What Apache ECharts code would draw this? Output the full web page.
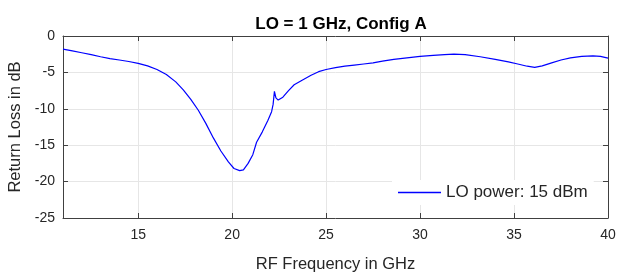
<!DOCTYPE html>
<html>
<head>
<meta charset="utf-8">
<script src="https://cdn.jsdelivr.net/npm/echarts@6/dist/echarts.min.js"></script>
<style>
  html, body { margin: 0; padding: 0; background: #fff; }
  #main { width: 622px; height: 274px; }
</style>
</head>
<body>
<div id="main"></div>
<script>
// RF frequency (GHz) and return loss (dB)
var freq = [11, 11.5, 12, 12.5, 13, 13.5, 14, 14.5, 15, 15.5, 16, 16.5, 17, 17.4, 17.8,
  18.2, 18.6, 19.0, 19.4, 19.8, 20.1, 20.4, 20.6, 20.85, 21.1, 21.3, 21.6, 21.9, 22.1,
  22.18, 22.25, 22.33, 22.45, 22.7, 23.0, 23.3, 23.7, 24.2, 24.6, 25.0, 25.5, 26.0, 26.5,
  27.0, 27.5, 28, 28.6, 29.3, 30, 30.7, 31.3, 31.8, 32.4, 33.2, 34.0, 34.7, 35.2, 35.7,
  36.1, 36.5, 37.0, 37.5, 38.0, 38.6, 39.2, 39.6, 40];
var returnLoss = [-1.8, -2.05, -2.3, -2.55, -2.85, -3.1, -3.3, -3.5, -3.75, -4.1, -4.6, -5.3, -6.3, -7.4, -8.7,
  -10.2, -12.0, -14.0, -15.8, -17.3, -18.2, -18.5, -18.4, -17.5, -16.3, -14.6, -13.2, -11.6, -10.4,
  -9.4, -7.6, -8.5, -8.8, -8.4, -7.5, -6.7, -6.1, -5.4, -4.9, -4.6, -4.35, -4.15, -4.0,
  -3.85, -3.7, -3.45, -3.2, -3.0, -2.8, -2.65, -2.55, -2.5, -2.55, -2.85, -3.2, -3.55, -3.85, -4.15,
  -4.3, -4.1, -3.7, -3.3, -3.0, -2.8, -2.72, -2.8, -3.05];
var seriesName = 'LO power: 15 dBm';

var points = [];
for (var i = 0; i < freq.length; i++) {
  points.push([freq[i], returnLoss[i]]);
}

var font = 'Liberation Sans, Arial, sans-serif';
var axisColor = '#404040';
var gridColor = '#e6e6e6';

var myChart = echarts.init(document.getElementById('main'));

var option = {
  backgroundColor: '#fff',
  animation: false,
  title: {
    text: 'LO = 1 GHz, Config A',
    left: 336,
    top: 11,
    textAlign: 'center',
    textStyle: { fontFamily: font, fontSize: 17, fontWeight: 'bold', color: '#000' }
  },
  legend: {
    data: [seriesName],
    left: 392,
    top: 180,
    icon: 'rect',
    itemWidth: 43,
    itemHeight: 1.3,
    itemGap: 5,
    padding: [4, 6],
    backgroundColor: '#fff',
    textStyle: { fontFamily: font, fontSize: 17, color: '#262626' }
  },
  grid: { left: 63, right: 14, top: 36, bottom: 56, outerBoundsMode: 'none', containLabel: false },
  xAxis: [{
    type: 'value',
    min: 11,
    max: 40,
    splitNumber: 6,
    name: 'RF Frequency in GHz',
    nameLocation: 'middle',
    nameGap: 38,
    nameTextStyle: { fontFamily: font, fontSize: 16.5, color: '#262626' },
    axisLine: { show: true, onZero: false, lineStyle: { color: axisColor } },
    axisTick: { show: true, inside: true, length: 5, lineStyle: { color: axisColor } },
    axisLabel: { showMinLabel: false, margin: 10, fontFamily: font, fontSize: 14, color: '#262626' },
    splitLine: { show: true, lineStyle: { color: gridColor } }
  }, {
    type: 'value',
    position: 'top',
    min: 11,
    max: 40,
    splitNumber: 6,
    axisLine: { show: true, onZero: false, lineStyle: { color: axisColor } },
    axisTick: { show: true, inside: true, length: 5, lineStyle: { color: axisColor } },
    axisLabel: { show: false },
    splitLine: { show: false }
  }],
  yAxis: [{
    type: 'value',
    min: -25,
    max: 0,
    interval: 5,
    name: 'Return Loss in dB',
    nameLocation: 'middle',
    nameGap: 34,
    nameTextStyle: { fontFamily: font, fontSize: 16.5, color: '#262626' },
    axisLine: { show: true, onZero: false, lineStyle: { color: axisColor } },
    axisTick: { show: true, inside: true, length: 5, lineStyle: { color: axisColor } },
    axisLabel: { margin: 8, fontFamily: font, fontSize: 14, color: '#262626' },
    splitLine: { show: true, lineStyle: { color: gridColor } }
  }, {
    type: 'value',
    position: 'right',
    min: -25,
    max: 0,
    interval: 5,
    axisLine: { show: true, onZero: false, lineStyle: { color: axisColor } },
    axisTick: { show: true, inside: true, length: 5, lineStyle: { color: axisColor } },
    axisLabel: { show: false },
    splitLine: { show: false }
  }],
  series: [{
    name: seriesName,
    type: 'line',
    data: points,
    symbol: 'none',
    smooth: false,
    lineStyle: { color: '#0000ff', width: 1.2 },
    itemStyle: { color: '#0000ff' }
  }]
};

myChart.setOption(option);
</script>
</body>
</html>
